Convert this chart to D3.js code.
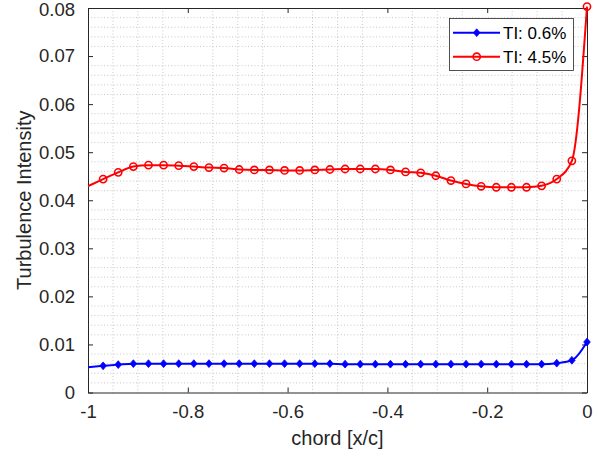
<!DOCTYPE html>
<html>
<head>
<meta charset="utf-8">
<script src="https://cdn.jsdelivr.net/npm/d3@7"></script>
<style>
  html, body { margin: 0; padding: 0; background: #fff; }
  svg { display: block; font-family: "Liberation Sans", Arial, Helvetica, sans-serif; }
</style>
</head>
<body>
<svg id="chart" width="598" height="459"></svg>
<script>
// Chordwise positions (x/c); the first sample lies just outside the plotted range
const chord = [-1.0303, -0.9697, -0.9394, -0.9091, -0.8788, -0.8485, -0.8182, -0.7879,
  -0.7576, -0.7273, -0.6970, -0.6667, -0.6364, -0.6061, -0.5758, -0.5455, -0.5152,
  -0.4848, -0.4545, -0.4242, -0.3939, -0.3636, -0.3333, -0.3030, -0.2727, -0.2424,
  -0.2121, -0.1818, -0.1515, -0.1212, -0.0909, -0.0606, -0.0303, 0.0000];

// Turbulence intensity, low free-stream turbulence case
const tiLow = [0.0050, 0.00555, 0.0058, 0.0060, 0.0060, 0.0060, 0.0060, 0.0060, 0.0060,
  0.0060, 0.0060, 0.0060, 0.0060, 0.0060, 0.0060, 0.0060, 0.0060, 0.0059, 0.0059, 0.0059,
  0.0059, 0.0059, 0.0059, 0.0059, 0.0059, 0.0059, 0.0059, 0.0059, 0.0059, 0.0059, 0.0059,
  0.0061, 0.0067, 0.0105];

// Turbulence intensity, high free-stream turbulence case
const tiHigh = [0.0414, 0.0444, 0.0458, 0.0470, 0.0473, 0.0473, 0.0472, 0.0470, 0.0468,
  0.0467, 0.0464, 0.0463, 0.0463, 0.0462, 0.0462, 0.0463, 0.0464, 0.0465, 0.0465, 0.0465,
  0.0463, 0.0459, 0.0457, 0.0451, 0.0441, 0.0434, 0.0429, 0.0427, 0.0427, 0.0427, 0.0430,
  0.0444, 0.0482, 0.0803];

const seriesNames = ["TI: 0.6%", "TI: 4.5%"];
const xTicks = [-1, -0.8, -0.6, -0.4, -0.2, 0];
const xTickLabels = ["-1", "-0.8", "-0.6", "-0.4", "-0.2", "0"];
const yTicks = [0, 0.01, 0.02, 0.03, 0.04, 0.05, 0.06, 0.07, 0.08];
const yTickLabels = ["0", "0.01", "0.02", "0.03", "0.04", "0.05", "0.06", "0.07", "0.08"];
const xLabel = "chord [x/c]";
const yLabel = "Turbulence Intensity";

const axisColor = "#262626";
const L = 88, R = 587, T = 8, B = 392.5;

const svg = d3.select("#chart");
const x = d3.scaleLinear().domain([-1, 0]).range([L, R]);
const y = d3.scaleLinear().domain([0, 0.08]).range([B, T]);

// Minor grid (dotted), skipping major tick positions
const xMinor = d3.range(1, 20).map(k => -1 + k * 0.05).filter(v => Math.abs(v * 5 - Math.round(v * 5)) > 1e-6);
const yMinor = d3.range(1, 40).map(k => k * 0.002).filter(v => Math.abs(v * 100 - Math.round(v * 100)) > 1e-6);
const grid = svg.append("g").attr("stroke", "#bababa").attr("stroke-width", 0.8)
  .attr("stroke-dasharray", "1,2.2");
grid.selectAll("line.vx").data(xMinor).join("line")
  .attr("x1", d => x(d)).attr("x2", d => x(d)).attr("y1", T).attr("y2", B);
grid.selectAll("line.hy").data(yMinor).join("line")
  .attr("x1", L).attr("x2", R).attr("y1", d => y(d)).attr("y2", d => y(d));

// Axes with inward ticks on all four sides
const tickLen = 5;
const fmtX = (d, i) => xTickLabels[i];
const fmtY = (d, i) => yTickLabels[i];

const gx = svg.append("g").attr("transform", `translate(0,${B})`)
  .call(d3.axisBottom(x).tickValues(xTicks).tickFormat(fmtX).tickSizeInner(-tickLen).tickSizeOuter(0).tickPadding(12));
const gy = svg.append("g").attr("transform", `translate(${L},0)`)
  .call(d3.axisLeft(y).tickValues(yTicks).tickFormat(fmtY).tickSizeInner(-tickLen).tickSizeOuter(0).tickPadding(13));
const gxTop = svg.append("g").attr("transform", `translate(0,${T})`)
  .call(d3.axisTop(x).tickValues(xTicks).tickFormat("").tickSizeInner(-tickLen).tickSizeOuter(0));
const gyRight = svg.append("g").attr("transform", `translate(${R},0)`)
  .call(d3.axisRight(y).tickValues(yTicks).tickFormat("").tickSizeInner(-tickLen).tickSizeOuter(0));

[gx, gy, gxTop, gyRight].forEach(g => {
  g.select(".domain").attr("stroke", axisColor).attr("stroke-width", 1);
  g.selectAll(".tick line").attr("stroke", axisColor).attr("stroke-width", 1);
  g.selectAll(".tick text").attr("fill", axisColor).style("font-size", "18.5px")
    .style("font-family", "'Liberation Sans', Arial, sans-serif");
});
gx.selectAll(".tick text").attr("dy", "0.71em");
// keep the top label fully inside the canvas
gy.selectAll(".tick text").filter(d => d === 0.08).attr("dy", "0.42em");

// Axis titles
svg.append("text").attr("x", (L + R) / 2).attr("y", 445).attr("text-anchor", "middle")
  .attr("fill", axisColor).style("font-size", "20px").text(xLabel);
svg.append("text").attr("transform", `translate(31,${(T + B) / 2}) rotate(-90)`)
  .attr("text-anchor", "middle").attr("fill", axisColor).style("font-size", "20px").text(yLabel);

// Data curves, clipped to the plotted chord range
svg.append("clipPath").attr("id", "plotClip").append("rect")
  .attr("x", L).attr("y", 0).attr("width", 598 - L).attr("height", 459);

const series = [
  { name: seriesNames[0], values: tiLow, color: "#0000ff", marker: "diamond" },
  { name: seriesNames[1], values: tiHigh, color: "#ff0000", marker: "circle" }
];

const line = d3.line().x(d => x(d[0])).y(d => y(d[1])).curve(d3.curveMonotoneX);

function drawMarker(g, s, cx, cy) {
  if (s.marker === "diamond") {
    const w = 3.3, h = 3.9;
    g.append("path").attr("d", `M0,${-h}L${w},0L0,${h}L${-w},0Z`)
      .attr("transform", `translate(${cx},${cy})`)
      .attr("fill", s.color).attr("stroke", s.color).attr("stroke-width", 0.8);
  } else {
    g.append("circle").attr("cx", cx).attr("cy", cy).attr("r", 3.6)
      .attr("fill", "none").attr("stroke", s.color).attr("stroke-width", 1.6);
  }
}

const plot = svg.append("g").attr("clip-path", "url(#plotClip)");
series.forEach(s => {
  const pts = chord.map((c, i) => [c, s.values[i]]);
  plot.append("path").datum(pts).attr("d", line)
    .attr("fill", "none").attr("stroke", s.color).attr("stroke-width", 2);
  const mg = plot.append("g");
  pts.forEach(p => drawMarker(mg, s, x(p[0]), y(p[1])));
});

// Legend
const lg = svg.append("g");
lg.append("rect").attr("x", 449.5).attr("y", 18.5).attr("width", 124).attr("height", 52)
  .attr("fill", "#fff").attr("stroke", axisColor).attr("stroke-width", 0.8);
series.forEach((s, i) => {
  const cy = 32.7 + i * 24;
  lg.append("line").attr("x1", 453).attr("x2", 500).attr("y1", cy).attr("y2", cy)
    .attr("stroke", s.color).attr("stroke-width", 2);
  drawMarker(lg, s, 476.7, cy);
  lg.append("text").attr("x", 503).attr("y", cy).attr("dy", "0.36em")
    .attr("fill", "#000").style("font-size", "17px").text(s.name);
});
</script>
</body>
</html>
